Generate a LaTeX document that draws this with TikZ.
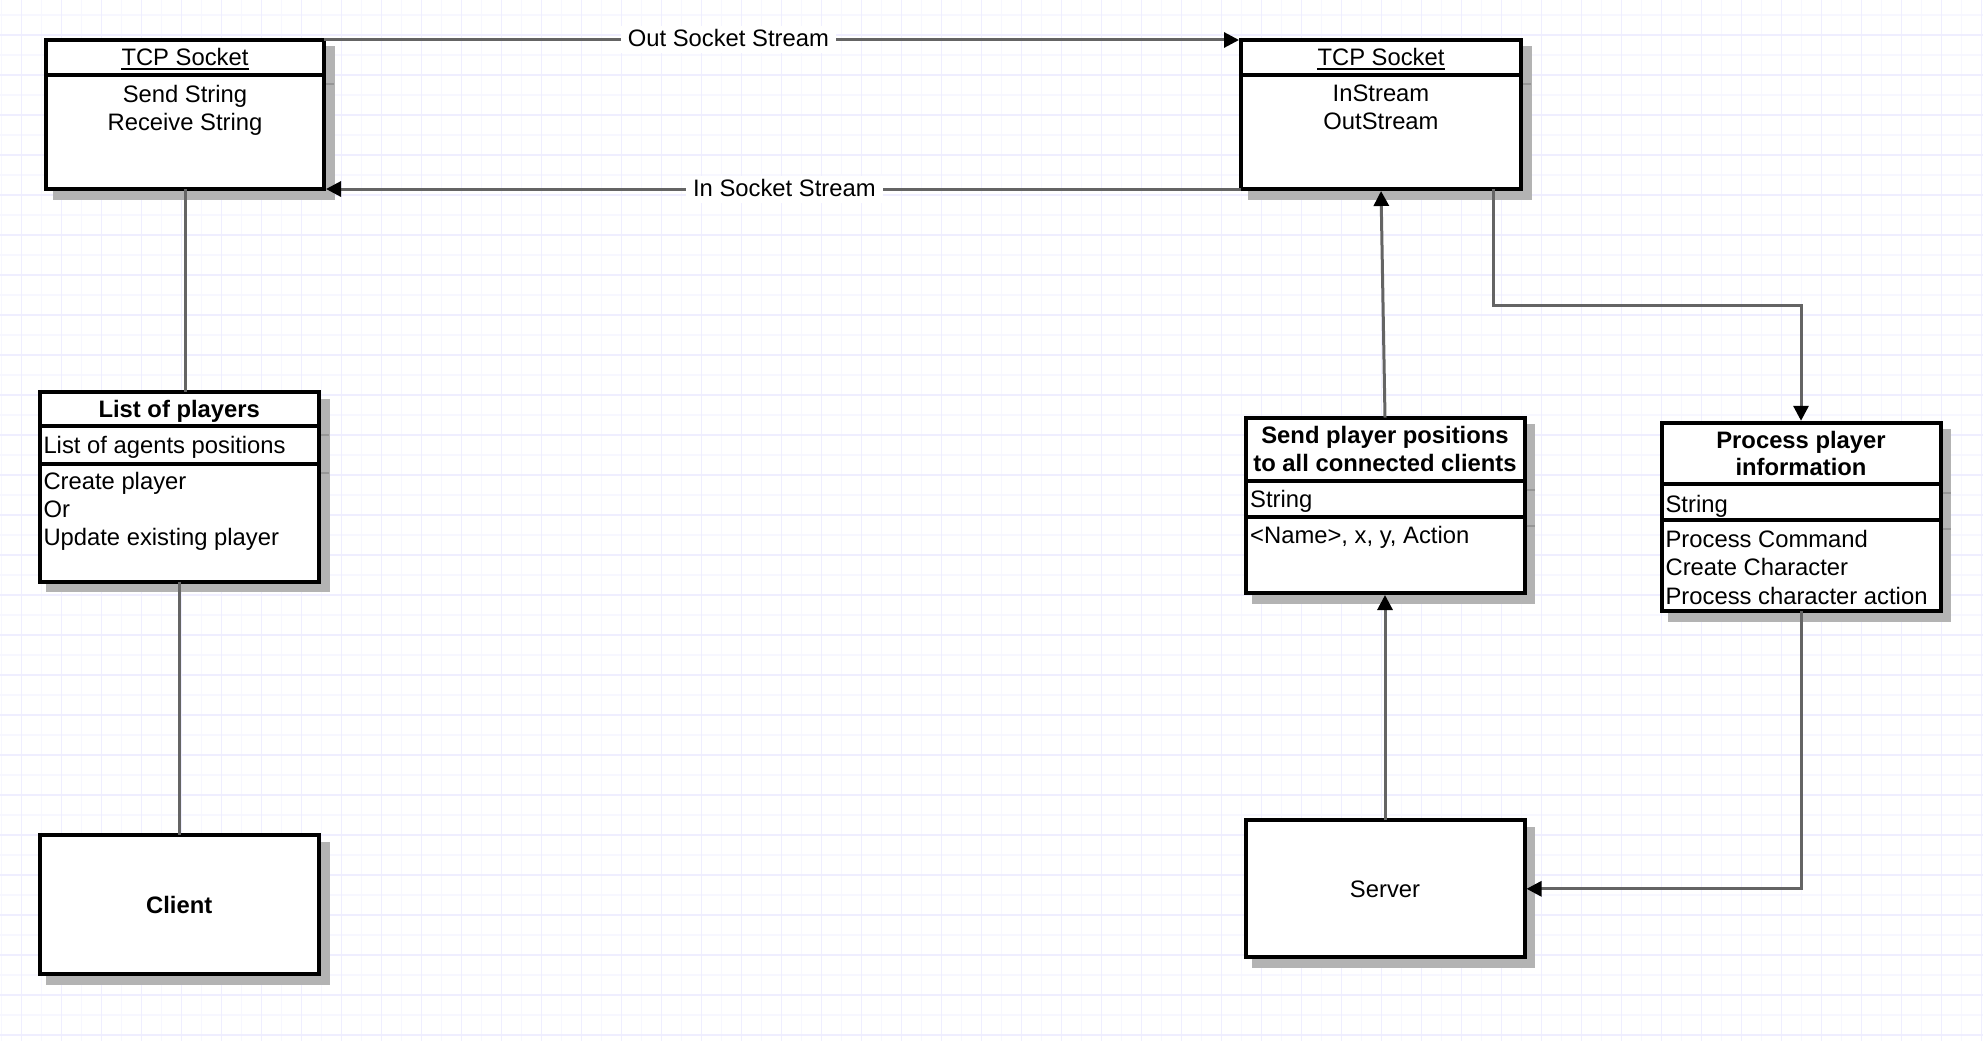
\documentclass[tikz,border=0pt]{standalone}
\usepackage{fontspec}
\setmainfont{Liberation Sans}
\usetikzlibrary{arrows.meta,calc}
\definecolor{gridA}{RGB}{247,247,255}
\definecolor{gridB}{RGB}{239,238,255}
\definecolor{shadowc}{RGB}{179,179,179}
\definecolor{tickc}{RGB}{150,150,150}
\definecolor{linec}{RGB}{100,100,100}
\tikzset{
  box/.style={rectangle, draw=black, line width=4pt, fill=white, inner sep=0pt, outer sep=0pt},
  txt/.style={inner sep=0pt, anchor=base, font=\fontsize{23.8}{28}\selectfont},
  ltxt/.style={txt, anchor=base west},
  btxt/.style={txt, font=\fontsize{23.8}{28}\selectfont\bfseries},
  lbl/.style={fill=white, inner xsep=7pt, inner ysep=1.5pt, text height=19pt, text depth=5pt, font=\fontsize{23.8}{28}\selectfont},
  conn/.style={draw=linec, line width=3pt},
  arr/.style={conn, -{Triangle[length=15pt,width=15pt,color=black]}, shorten >=2pt},
}
\newcommand\umlbox[5]{%
  \fill[shadowc] ({#2+6.5},{#3+6.5}) rectangle ({#4+10.5},{#5+10.5});
  \node[box, minimum width={#4-#2}, minimum height={#5-#3}] (#1) at ({(#2+#4)/2},{(#3+#5)/2}) {};
}
\newcommand\sepline[3]{%
  \draw[tickc, line width=2pt] ({#2+2},{#3+9}) -- ({#2+10},{#3+9});
  \draw[line width=4pt] (#1,#3) -- (#2,#3);
}
\begin{document}
\begin{tikzpicture}[x=1pt,y=-1pt]
\useasboundingbox (0,0) rectangle (1983,1041);
\fill[white] (0,0) rectangle (1983,1041);
% grid
\foreach \x in {1.7,41.7,...,1983} \draw[gridA, line width=1.5pt] (\x,0) -- (\x,1041);
\foreach \y in {15,55,...,1041} \draw[gridA, line width=1.5pt] (0,\y) -- (1983,\y);
\foreach \x in {21.7,61.7,...,1983} \draw[gridB, line width=1.5pt] (\x,0) -- (\x,1041);
\foreach \y in {35,75,...,1041} \draw[gridB, line width=1.5pt] (0,\y) -- (1983,\y);

% boxes
\umlbox{tcp1}{46}{40}{324}{189}
\sepline{46}{324}{75}
\umlbox{tcp2}{1241}{40}{1521}{189}
\sepline{1241}{1521}{75}
\umlbox{list}{39.5}{392.4}{319}{581.5}
\sepline{39.5}{319}{426}
\sepline{39.5}{319}{464.2}
\umlbox{client}{39.5}{835.3}{319}{974}
\umlbox{send}{1245.5}{417.7}{1524.5}{593}
\sepline{1245.5}{1524.5}{481}
\sepline{1245.5}{1524.5}{516.7}
\umlbox{proc}{1661.5}{422.8}{1940.5}{611.3}
\sepline{1661.5}{1940.5}{483.8}
\sepline{1661.5}{1940.5}{520.3}
\umlbox{server}{1245.5}{820.3}{1524.5}{957.3}

% texts TCP1
\node[txt] (h1) at (185,66) {TCP Socket};
\draw[line width=1.5pt] ([yshift=-3pt]h1.base west) -- ([yshift=-3pt]h1.base east);
\node[txt] (t1a) at (185,102.5) {Send String};
\node[txt] (t1b) at (185,130.5) {Receive String};
% texts TCP2
\node[txt] (h2) at (1381,66) {TCP Socket};
\draw[line width=1.5pt] ([yshift=-3pt]h2.base west) -- ([yshift=-3pt]h2.base east);
\node[txt] (t2a) at (1381,101.5) {InStream};
\node[txt] (t2b) at (1381,129.5) {OutStream};
% list
\node[btxt] (h3) at (179.25,417.2) {List of players};
\node[ltxt] (t3a) at (43.3,453.5) {List of agents positions};
\node[ltxt] (t3b) at (43.3,489.5) {Create player};
\node[ltxt] (t3c) at (43.3,517.5) {Or};
\node[ltxt] (t3d) at (43.3,545) {Update existing player};
% client
\node[btxt] (h4) at (179.25,913.5) {Client};
% send
\node[btxt] (h5a) at (1385,443.5) {Send player positions};
\node[btxt] (h5b) at (1385,471.2) {to all connected clients};
\node[ltxt] (t5a) at (1250,507.5) {String};
\node[ltxt] (t5b) at (1250,543.5) {<Name>, x, y, Action};
% process
\node[btxt] (h6a) at (1801,448) {Process player};
\node[btxt] (h6b) at (1801,475) {information};
\node[ltxt] (t6a) at (1665.4,512.2) {String};
\node[ltxt] (t6b) at (1665.4,547.5) {Process Command};
\node[ltxt] (t6c) at (1665.4,575.5) {Create Character};
\node[ltxt] (t6d) at (1665.4,604.3) {Process character action};
% server
\node[txt] (h7) at (1385,897.2) {Server};

% connectors
\draw[arr] (tcp1.north east) -- node[lbl, pos=0.441] (lout) {Out Socket Stream} (tcp2.north west);
\draw[arr] (tcp2.south west) -- node[lbl, pos=0.498] (lin) {In Socket Stream} (tcp1.south east);
\draw[conn] (tcp1.south) -- (tcp1.south |- list.north);
\draw[conn] (list.south) -- (client.north);
\draw[arr] (send.north) -- (tcp2.south);
\draw[arr] (server.north) -- (send.south);
\coordinate (bend1) at (1493.3,305);
\draw[arr] (bend1 |- tcp2.south) -- (bend1) -| (proc.north);
\draw[arr] (proc.south) |- (server.east);
\end{tikzpicture}
\end{document}
